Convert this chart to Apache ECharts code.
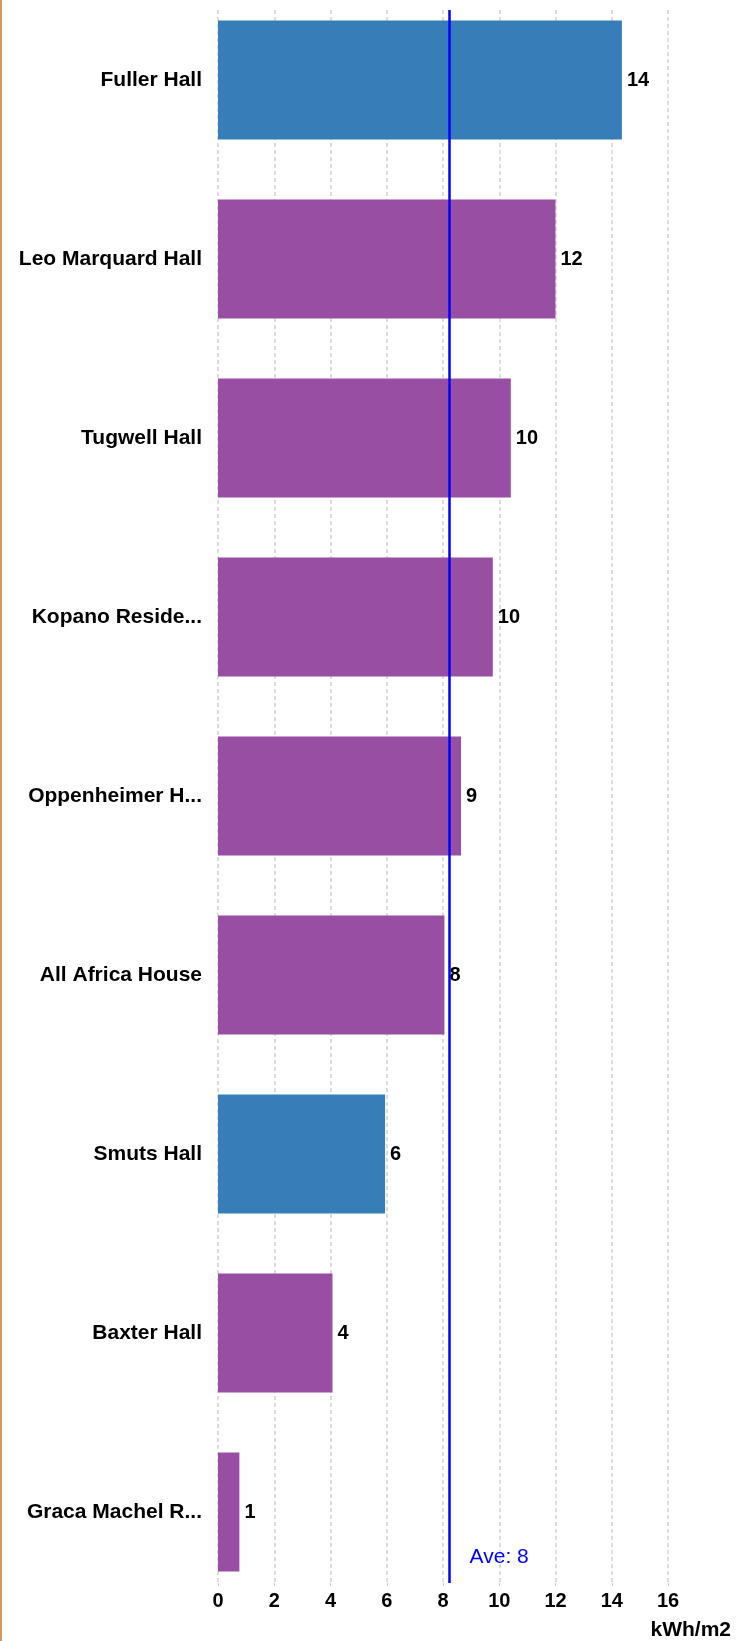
<!DOCTYPE html>
<html>
<head>
<meta charset="utf-8">
<title>kWh/m2</title>
<script src="https://cdn.jsdelivr.net/npm/echarts@6/dist/echarts.min.js"></script>
<style>
  html, body { margin: 0; padding: 0; background: #fff; overflow: hidden; }
  /* chart is pulled up 10px so the first bar band can start above the page */
  #chart { position: absolute; left: 0; top: -10px; width: 736px; height: 1651px; }
  #edge { position: absolute; left: 0; top: 0; width: 2px; height: 1641px; background: #d4975f; }
</style>
</head>
<body>
<div id="chart"></div>
<div id="edge"></div>
<script>
var halls = ['Fuller Hall', 'Leo Marquard Hall', 'Tugwell Hall', 'Kopano Reside...', 'Oppenheimer H...',
             'All Africa House', 'Smuts Hall', 'Baxter Hall', 'Graca Machel R...'];
var usage = [14.36, 12.0, 10.41, 9.77, 8.64, 8.05, 5.94, 4.07, 0.76];
var blueHalls = ['Fuller Hall', 'Smuts Hall'];
var xTicks = [0, 16, 2]; // min, max, step
var unitName = 'kWh/m2';

var font = "'Liberation Sans', Arial, sans-serif";

function initEcharts(elem) {
	var myChart = echarts.init(document.getElementById(elem));
	var option = {
		animation: false,
		grid: [
			// bars
			{ left: 218, right: 68, top: 0.5, height: 1611 },
			// grid lines, x labels, average line
			{ left: 218, right: 68, top: 20, bottom: 58 }
		],
		xAxis: [
			{ gridIndex: 0, type: 'value', min: xTicks[0], max: xTicks[1], interval: xTicks[2], show: false },
			{
				gridIndex: 1, type: 'value', min: xTicks[0], max: xTicks[1], interval: xTicks[2],
				axisLine: { show: false },
				axisTick: { show: true, length: 3, lineStyle: { color: '#e3c79b' } },
				axisLabel: { color: '#000', fontWeight: 'bold', fontSize: 20, fontFamily: font, margin: 8 },
				splitLine: { show: true, lineStyle: { color: '#dcdcdc', width: 2, type: [4, 3] } },
				name: unitName,
				nameLocation: 'end',
				nameGap: 63,
				nameTextStyle: { color: '#000', fontWeight: 'bold', fontSize: 21, fontFamily: font,
					align: 'right', verticalAlign: 'top', padding: [37, 0, 0, 0] }
			}
		],
		yAxis: [
			{
				gridIndex: 0, type: 'category', data: halls, inverse: true,
				axisLine: { show: false }, axisTick: { show: false },
				axisLabel: { color: '#000', fontWeight: 'bold', fontSize: 21, fontFamily: font, margin: 16 }
			},
			{ gridIndex: 1, type: 'category', data: halls, inverse: true, show: false }
		],
		series: [
			{
				type: 'bar',
				xAxisIndex: 0, yAxisIndex: 0,
				data: usage,
				barWidth: 119,
				itemStyle: {
					color: function (p) {
						return blueHalls.indexOf(p.name) >= 0 ? '#377eb8' : '#984ea3';
					}
				},
				label: {
					show: true, position: 'right', distance: 5,
					color: '#000', fontWeight: 'bold', fontSize: 20, fontFamily: font,
					formatter: function (p) { return Math.round(p.value); }
				}
			},
			{
				// invisible copy, only carries the average line in the second grid
				type: 'bar',
				xAxisIndex: 1, yAxisIndex: 1,
				data: usage,
				silent: true,
				z: 5,
				itemStyle: { color: 'rgba(0,0,0,0)' },
				markLine: {
					silent: true,
					symbol: 'none',
					lineStyle: { color: '#0000ff', width: 2.5, type: 'solid' },
					label: {
						position: 'end',
						offset: [50, -41],
						color: '#0000ff', fontSize: 21, fontFamily: font,
						formatter: function (p) { return 'Ave: ' + Math.round(p.value); }
					},
					data: [{ type: 'average', name: 'Ave' }]
				}
			}
		]
	};
	myChart.setOption(option);
}

initEcharts('chart');
</script>
</body>
</html>
